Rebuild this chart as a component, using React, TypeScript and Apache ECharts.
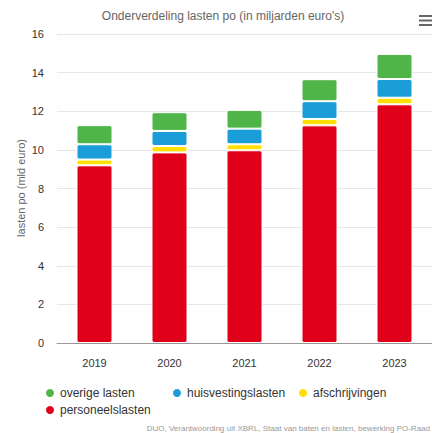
import React, { useEffect, useRef } from "react";
import * as echarts from "echarts";

const years = ["2019", "2020", "2021", "2022", "2023"];
const personeelslasten = [9.2, 9.87, 9.98, 11.27, 12.36];
const afschrijvingen = [0.3, 0.33, 0.31, 0.33, 0.34];
const huisvestingslasten = [0.79, 0.78, 0.81, 0.92, 0.97];
const overigeLasten = [0.99, 0.97, 0.97, 1.14, 1.3];
const yTicks = { min: 0, max: 16, interval: 2 };

const FONT = "Liberation Sans, Arial, sans-serif";

export default function App() {
  const ref = useRef<HTMLDivElement>(null);
  useEffect(() => {
    if (!ref.current) return;
    const chart = echarts.init(ref.current, undefined, { renderer: "svg" });
    const mk = (name: string, data: number[], color: string) => ({
      name,
      type: "bar",
      stack: "total",
      data,
      barWidth: 36,
      itemStyle: { color, borderColor: "#ffffff", borderWidth: 1, borderRadius: 2 },
      emphasis: { disabled: true },
    });
    const legendBase = {
      icon: "circle",
      itemWidth: 10,
      itemHeight: 10,
      itemGap: 5,
      padding: 0,
      textStyle: { fontSize: 12, color: "#333", fontFamily: FONT },
      selectedMode: false,
    };
    chart.setOption({
      animation: false,
      textStyle: { fontFamily: FONT },
      grid: { left: 57, top: 34, width: 380, bottom: 90, containLabel: false },
      xAxis: {
        type: "category",
        data: years,
        axisLine: { lineStyle: { color: "#999", width: 1 } },
        axisTick: { show: false },
        axisLabel: { fontSize: 11, color: "#333", margin: 14, fontFamily: FONT },
      },
      yAxis: {
        type: "value",
        min: yTicks.min,
        max: yTicks.max,
        interval: yTicks.interval,
        axisLabel: { fontSize: 11, color: "#333", margin: 13, fontFamily: FONT },
        splitLine: { lineStyle: { color: "#e6e6e6", width: 1 } },
        axisLine: { show: false },
        axisTick: { show: false },
      },
      legend: [
        { ...legendBase, data: ["overige lasten"], left: 44, top: 387 },
        { ...legendBase, data: ["huisvestingslasten"], left: 171, top: 387 },
        { ...legendBase, data: ["afschrijvingen"], left: 297, top: 387 },
        { ...legendBase, data: ["personeelslasten"], left: 44, top: 404 },
      ],
      series: [
        mk("personeelslasten", personeelslasten, "#e0001a"),
        mk("afschrijvingen", afschrijvingen, "#ffe000"),
        mk("huisvestingslasten", huisvestingslasten, "#1b9dd7"),
        mk("overige lasten", overigeLasten, "#4fb548"),
      ],
      graphic: [
        {
          type: "text",
          x: 223,
          y: 10,
          style: {
            text: "Onderverdeling lasten po (in miljarden euro's)",
            fontSize: 12,
            fill: "#666",
            fontFamily: FONT,
            textAlign: "center",
          },
        },
        {
          type: "text",
          x: 21,
          y: 188,
          rotation: Math.PI / 2,
          style: {
            text: "lasten po (mld euro)",
            fontSize: 11,
            fill: "#666",
            fontFamily: FONT,
            textAlign: "center",
            textVerticalAlign: "middle",
          },
        },
        { type: "rect", shape: { x: 419, y: 15, width: 13, height: 2 }, style: { fill: "#666" } },
        { type: "rect", shape: { x: 419, y: 19.5, width: 13, height: 2 }, style: { fill: "#666" } },
        { type: "rect", shape: { x: 419, y: 24, width: 13, height: 2 }, style: { fill: "#666" } },
        {
          type: "text",
          x: 430,
          y: 424,
          style: {
            text: "DUO, Verantwoording uit XBRL, Staat van baten en lasten, bewerking PO-Raad",
            fontSize: 8,
            fill: "#999",
            fontFamily: FONT,
            textAlign: "right",
          },
        },
      ],
    });
    return () => chart.dispose();
  }, []);
  return (
    <div
      ref={ref}
      style={{ position: "absolute", left: 0, top: 0, width: 432, height: 433, background: "#fff" }}
    />
  );
}
